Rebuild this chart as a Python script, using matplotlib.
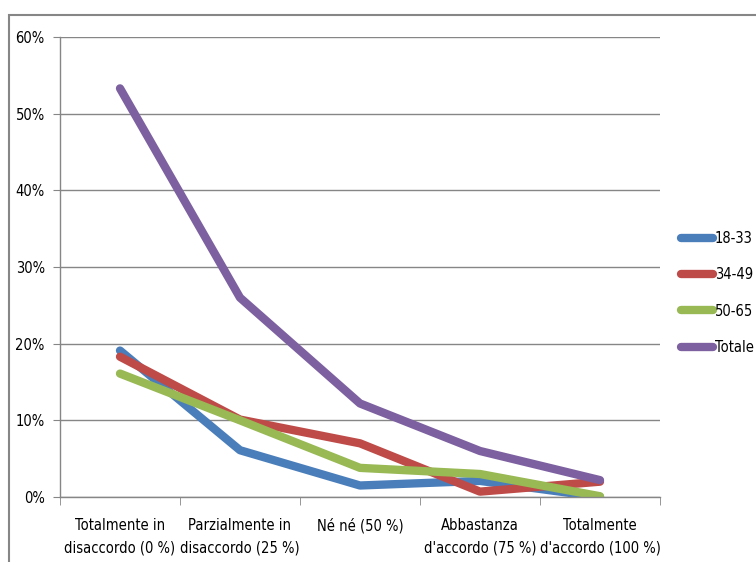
import matplotlib
matplotlib.use("Agg")
import matplotlib.pyplot as plt
from matplotlib.patches import Rectangle
from matplotlib.ticker import PercentFormatter

plt.rcParams['font.family'] = ['DejaVu Sans']
plt.rcParams['font.stretch'] = 'condensed'

# answer categories and share of respondents (%) per age group
categories = ["Totalmente in\ndisaccordo (0 %)", "Parzialmente in\ndisaccordo (25 %)",
              "Né né (50 %)", "Abbastanza\nd'accordo (75 %)", "Totalmente\nd'accordo (100 %)"]
eta_18_33 = [19.1, 6.1, 1.5, 2.1, 0.0]
eta_34_49 = [18.3, 10.1, 7.0, 0.7, 2.0]
eta_50_65 = [16.1, 10.0, 3.8, 3.0, 0.1]
totale = [53.3, 26.0, 12.2, 6.0, 2.2]

series = [("18-33", eta_18_33, "#4A7EBB"),
          ("34-49", eta_34_49, "#BE4B48"),
          ("50-65", eta_50_65, "#98B954"),
          ("Totale", totale, "#7D60A0")]

fig = plt.figure(figsize=(7.56, 5.62), dpi=100)
ax = fig.add_axes([60/756, 65/562, 600/756, 460/562])

x = range(len(categories))
for name, vals, col in series:
    ax.plot(x, vals, color=col, linewidth=6, solid_capstyle='round',
            solid_joinstyle='round', label=name)

ax.set_xlim(-0.5, len(categories) - 0.5)
ax.set_ylim(0, 60)
ax.set_yticks(range(0, 61, 10))
ax.yaxis.set_major_formatter(PercentFormatter(decimals=0))
ax.set_xticks(x)
ax.set_xticklabels(categories, linespacing=1.6)
ax.set_xticks([i + 0.5 for i in range(-1, len(categories))], minor=True)
ax.tick_params(axis='x', which='major', length=0, pad=15, labelsize=10.5)
ax.tick_params(axis='x', which='minor', length=6, color='#868686', direction='out')
ax.tick_params(axis='y', length=5, color='#868686', labelsize=10.5, pad=6)
ax.grid(axis='y', color='#868686', linewidth=1)
ax.set_axisbelow(True)
for side in ['top', 'right']:
    ax.spines[side].set_visible(False)
for side in ['left', 'bottom']:
    ax.spines[side].set_color('#868686')
    ax.spines[side].set_linewidth(1)

leg = fig.legend(loc='center left', bbox_to_anchor=(674/756, (562 - 293)/562),
                 frameon=False, fontsize=10.5, handlelength=2.2,
                 handletextpad=0.1, labelspacing=1.45, borderpad=0)

# chart border
fig.patches.append(Rectangle((9/756, -0.1), 1.1, (562 - 15)/562 + 0.1,
                             transform=fig.transFigure, fill=False,
                             edgecolor='#868686', linewidth=1.5))

fig.savefig("out.png", dpi=100)
